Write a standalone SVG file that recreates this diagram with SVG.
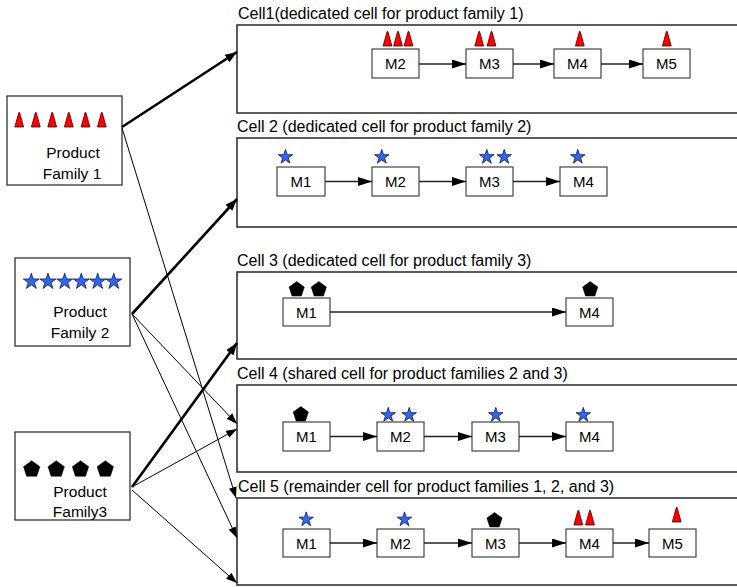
<svg xmlns="http://www.w3.org/2000/svg" width="737" height="587" viewBox="0 0 737 587">
  <style>
    .txt { font-family: "Liberation Sans", Arial, sans-serif; fill: #000; }
    .lbl { font-size: 16px; }
    .fam { font-size: 15.5px; text-anchor: middle; }
    .mtx { font-size: 15px; text-anchor: middle; }
    .cell { fill: #fff; stroke: #333; stroke-width: 1.6; }
    .fbox { fill: #fff; stroke: #333; stroke-width: 1.3; }
    .mbox { fill: #fff; stroke: #444; stroke-width: 1.2; }
    .flow { stroke: #222; stroke-width: 1.3; fill: none; marker-end: url(#flowHead); }
    .thin { stroke: #000; stroke-width: 1; fill: none; marker-end: url(#thinHead); }
    .thick { stroke: #000; stroke-width: 2.6; fill: none; marker-end: url(#thickHead); }
    .tri { fill: #ff0000; stroke: #400; stroke-width: 0.8; stroke-linejoin: round; }
    .star { fill: #3366ee; stroke: #0a1a55; stroke-width: 0.8; }
    .pent { fill: #000; stroke: #000; stroke-width: 0.5; }
  </style>
  <defs>
    <marker id="flowHead" viewBox="0 0 14 9" refX="14" refY="4.5" markerWidth="14" markerHeight="9" markerUnits="userSpaceOnUse" orient="auto">
      <path d="M0,0 L14,4.5 L0,9 z" fill="#000"/>
    </marker>
    <marker id="thinHead" viewBox="0 0 11 8" refX="11" refY="4" markerWidth="11" markerHeight="8" markerUnits="userSpaceOnUse" orient="auto">
      <path d="M0,0 L11,4 L0,8 z" fill="#000"/>
    </marker>
    <marker id="thickHead" viewBox="0 0 12 9" refX="12" refY="4.5" markerWidth="12" markerHeight="9" markerUnits="userSpaceOnUse" orient="auto">
      <path d="M0,0 L12,4.5 L0,9 z" fill="#000"/>
    </marker>
    <!-- part glyphs: cone (family 1), star (family 2), pentagon (family 3) -->
    <polygon id="cone" class="tri" points="-4.4,0 4.4,0 0.4,-14.5 -0.4,-14.5"/>
    <polygon id="star" class="star" points="0,-7.6 1.71,-2.35 7.23,-2.35 2.76,0.9 4.47,6.15 0,2.9 -4.47,6.15 -2.76,0.9 -7.23,-2.35 -1.71,-2.35"/>
    <polygon id="starL" class="star" points="0,-8.4 1.89,-2.6 7.99,-2.6 3.05,0.99 4.94,6.8 0,3.21 -4.94,6.8 -3.05,0.99 -7.99,-2.6 -1.89,-2.6"/>
    <polygon id="pent" class="pent" points="0,-8 7.61,-2.47 4.7,6.47 -4.7,6.47 -7.61,-2.47"/>
    <polygon id="pentL" class="pent" points="0,-8.6 8.18,-2.66 5.05,6.96 -5.05,6.96 -8.18,-2.66"/>
  </defs>

  <!-- product families -->
  <g id="family1">
    <rect class="fbox" x="7" y="96" width="115" height="89"/>
    <use href="#cone" x="19.2" y="127"/>
    <use href="#cone" x="35.8" y="127"/>
    <use href="#cone" x="52.2" y="127"/>
    <use href="#cone" x="68.8" y="127"/>
    <use href="#cone" x="85.5" y="127"/>
    <use href="#cone" x="101.8" y="127"/>
    <text class="txt fam" x="73" y="158">Product</text>
    <text class="txt fam" x="72" y="179">Family 1</text>
  </g>
  <g id="family2">
    <rect class="fbox" x="15" y="258" width="115" height="88"/>
    <use href="#starL" x="31.3" y="281.6"/>
    <use href="#starL" x="48" y="281.6"/>
    <use href="#starL" x="64.7" y="281.6"/>
    <use href="#starL" x="81.3" y="281.6"/>
    <use href="#starL" x="97.7" y="281.6"/>
    <use href="#starL" x="113.8" y="281.6"/>
    <text class="txt fam" x="80" y="317">Product</text>
    <text class="txt fam" x="80" y="338">Family 2</text>
  </g>
  <g id="family3">
    <rect class="fbox" x="15" y="432" width="115" height="88"/>
    <use href="#pentL" x="31.7" y="469.3"/>
    <use href="#pentL" x="56.2" y="469.3"/>
    <use href="#pentL" x="80.5" y="469.3"/>
    <use href="#pentL" x="105.3" y="469.3"/>
    <text class="txt fam" x="80" y="497">Product</text>
    <text class="txt fam" x="80" y="517">Family3</text>
  </g>

  <!-- cell 1 -->
  <g id="cell1">
    <text class="txt lbl" x="238" y="19">Cell1(dedicated cell for product family 1)</text>
    <rect class="cell" x="237" y="25" width="520" height="88"/>
    <g id="c1m2"><rect class="mbox" x="372" y="49" width="47" height="29"/><text class="txt mtx" x="395.5" y="69">M2</text></g>
    <g id="c1m3"><rect class="mbox" x="466" y="49" width="47" height="29"/><text class="txt mtx" x="489.5" y="69">M3</text></g>
    <g id="c1m4"><rect class="mbox" x="554" y="49" width="47" height="29"/><text class="txt mtx" x="577.5" y="69">M4</text></g>
    <g id="c1m5"><rect class="mbox" x="643" y="49" width="47" height="29"/><text class="txt mtx" x="666.5" y="69">M5</text></g>
    <use href="#cone" x="387.5" y="46"/>
    <use href="#cone" x="398" y="46"/>
    <use href="#cone" x="408.5" y="46"/>
    <use href="#cone" x="479.2" y="46"/>
    <use href="#cone" x="491.5" y="46"/>
    <use href="#cone" x="579.8" y="46"/>
    <use href="#cone" x="666.8" y="46"/>
  </g>

  <!-- cell 2 -->
  <g id="cell2">
    <text class="txt lbl" x="237" y="132">Cell 2 (dedicated cell for product family 2)</text>
    <rect class="cell" x="237" y="138" width="520" height="89"/>
    <g id="c2m1"><rect class="mbox" x="277" y="167" width="48" height="29"/><text class="txt mtx" x="301" y="187">M1</text></g>
    <g id="c2m2"><rect class="mbox" x="372" y="167" width="47" height="29"/><text class="txt mtx" x="395.5" y="187">M2</text></g>
    <g id="c2m3"><rect class="mbox" x="466" y="167" width="47" height="29"/><text class="txt mtx" x="489.5" y="187">M3</text></g>
    <g id="c2m4"><rect class="mbox" x="560" y="167" width="47" height="29"/><text class="txt mtx" x="583.5" y="187">M4</text></g>
    <use href="#star" x="285.5" y="157"/>
    <use href="#star" x="381.8" y="157"/>
    <use href="#star" x="486.8" y="157"/>
    <use href="#star" x="504.2" y="157"/>
    <use href="#star" x="577.8" y="157"/>
  </g>

  <!-- cell 3 -->
  <g id="cell3">
    <text class="txt lbl" x="237" y="266">Cell 3 (dedicated cell for product family 3)</text>
    <rect class="cell" x="237" y="272" width="520" height="87"/>
    <g id="c3m1"><rect class="mbox" x="283" y="298" width="47" height="28"/><text class="txt mtx" x="306.5" y="317.5">M1</text></g>
    <g id="c3m4"><rect class="mbox" x="566" y="298" width="47" height="28"/><text class="txt mtx" x="589.5" y="317.5">M4</text></g>
    <use href="#pent" x="296.7" y="289.5"/>
    <use href="#pent" x="318.8" y="289.5"/>
    <use href="#pent" x="590.2" y="289.5"/>
  </g>

  <!-- cell 4 -->
  <g id="cell4">
    <text class="txt lbl" x="237" y="379">Cell 4 (shared cell for product families 2 and 3)</text>
    <rect class="cell" x="237" y="385" width="520" height="87"/>
    <g id="c4m1"><rect class="mbox" x="283" y="422" width="47" height="29"/><text class="txt mtx" x="306.5" y="442">M1</text></g>
    <g id="c4m2"><rect class="mbox" x="377" y="422" width="47" height="29"/><text class="txt mtx" x="400.5" y="442">M2</text></g>
    <g id="c4m3"><rect class="mbox" x="472" y="422" width="47" height="29"/><text class="txt mtx" x="495.5" y="442">M3</text></g>
    <g id="c4m4"><rect class="mbox" x="566" y="422" width="47" height="29"/><text class="txt mtx" x="589.5" y="442">M4</text></g>
    <use href="#pent" x="300.8" y="414.5"/>
    <use href="#star" x="388.2" y="415"/>
    <use href="#star" x="409.2" y="415"/>
    <use href="#star" x="495.8" y="415"/>
    <use href="#star" x="583.3" y="415"/>
  </g>

  <!-- cell 5 -->
  <g id="cell5">
    <text class="txt lbl" x="238" y="492">Cell 5 (remainder cell for product families 1, 2, and 3)</text>
    <rect class="cell" x="237" y="498" width="520" height="87"/>
    <g id="c5m1"><rect class="mbox" x="283" y="529" width="47" height="28"/><text class="txt mtx" x="306.5" y="548.5">M1</text></g>
    <g id="c5m2"><rect class="mbox" x="377" y="529" width="47" height="28"/><text class="txt mtx" x="400.5" y="548.5">M2</text></g>
    <g id="c5m3"><rect class="mbox" x="472" y="529" width="47" height="28"/><text class="txt mtx" x="495.5" y="548.5">M3</text></g>
    <g id="c5m4"><rect class="mbox" x="566" y="529" width="47" height="28"/><text class="txt mtx" x="589.5" y="548.5">M4</text></g>
    <g id="c5m5"><rect class="mbox" x="649" y="529" width="47" height="28"/><text class="txt mtx" x="672.5" y="548.5">M5</text></g>
    <use href="#star" x="306.2" y="519.5"/>
    <use href="#star" x="404.5" y="519.5"/>
    <use href="#pent" x="494.5" y="520.5"/>
    <use href="#cone" x="578.3" y="525"/>
    <use href="#cone" x="590" y="525"/>
    <use href="#cone" x="676.7" y="522"/>
  </g>

  <!-- connectors: machine flow inside cells, and family-to-cell routing -->
  <g id="connectors">
    <line class="flow" x1="419" y1="64" x2="466" y2="64"/>
    <line class="flow" x1="513" y1="64" x2="554" y2="64"/>
    <line class="flow" x1="601" y1="64" x2="643" y2="64"/>

    <line class="flow" x1="325" y1="181.5" x2="372" y2="181.5"/>
    <line class="flow" x1="419" y1="181.5" x2="466" y2="181.5"/>
    <line class="flow" x1="513" y1="181.5" x2="560" y2="181.5"/>

    <line class="flow" x1="330" y1="312" x2="566" y2="312"/>

    <line class="flow" x1="330" y1="436.5" x2="377" y2="436.5"/>
    <line class="flow" x1="424" y1="436.5" x2="472" y2="436.5"/>
    <line class="flow" x1="519" y1="436.5" x2="566" y2="436.5"/>

    <line class="flow" x1="330" y1="543" x2="377" y2="543"/>
    <line class="flow" x1="424" y1="543" x2="472" y2="543"/>
    <line class="flow" x1="519" y1="543" x2="566" y2="543"/>
    <line class="flow" x1="613" y1="543" x2="649" y2="543"/>

    <line class="thick" x1="122" y1="127" x2="237" y2="52"/>
    <line class="thick" x1="132" y1="314" x2="237" y2="199"/>
    <line class="thick" x1="132" y1="487" x2="237" y2="343"/>

    <line class="thin" x1="122" y1="128" x2="236" y2="498"/>
    <line class="thin" x1="132" y1="314" x2="237" y2="424"/>
    <line class="thin" x1="132" y1="314" x2="237" y2="538"/>
    <line class="thin" x1="132" y1="487" x2="237" y2="429"/>
    <line class="thin" x1="132" y1="490" x2="237" y2="583"/>
  </g>
</svg>
